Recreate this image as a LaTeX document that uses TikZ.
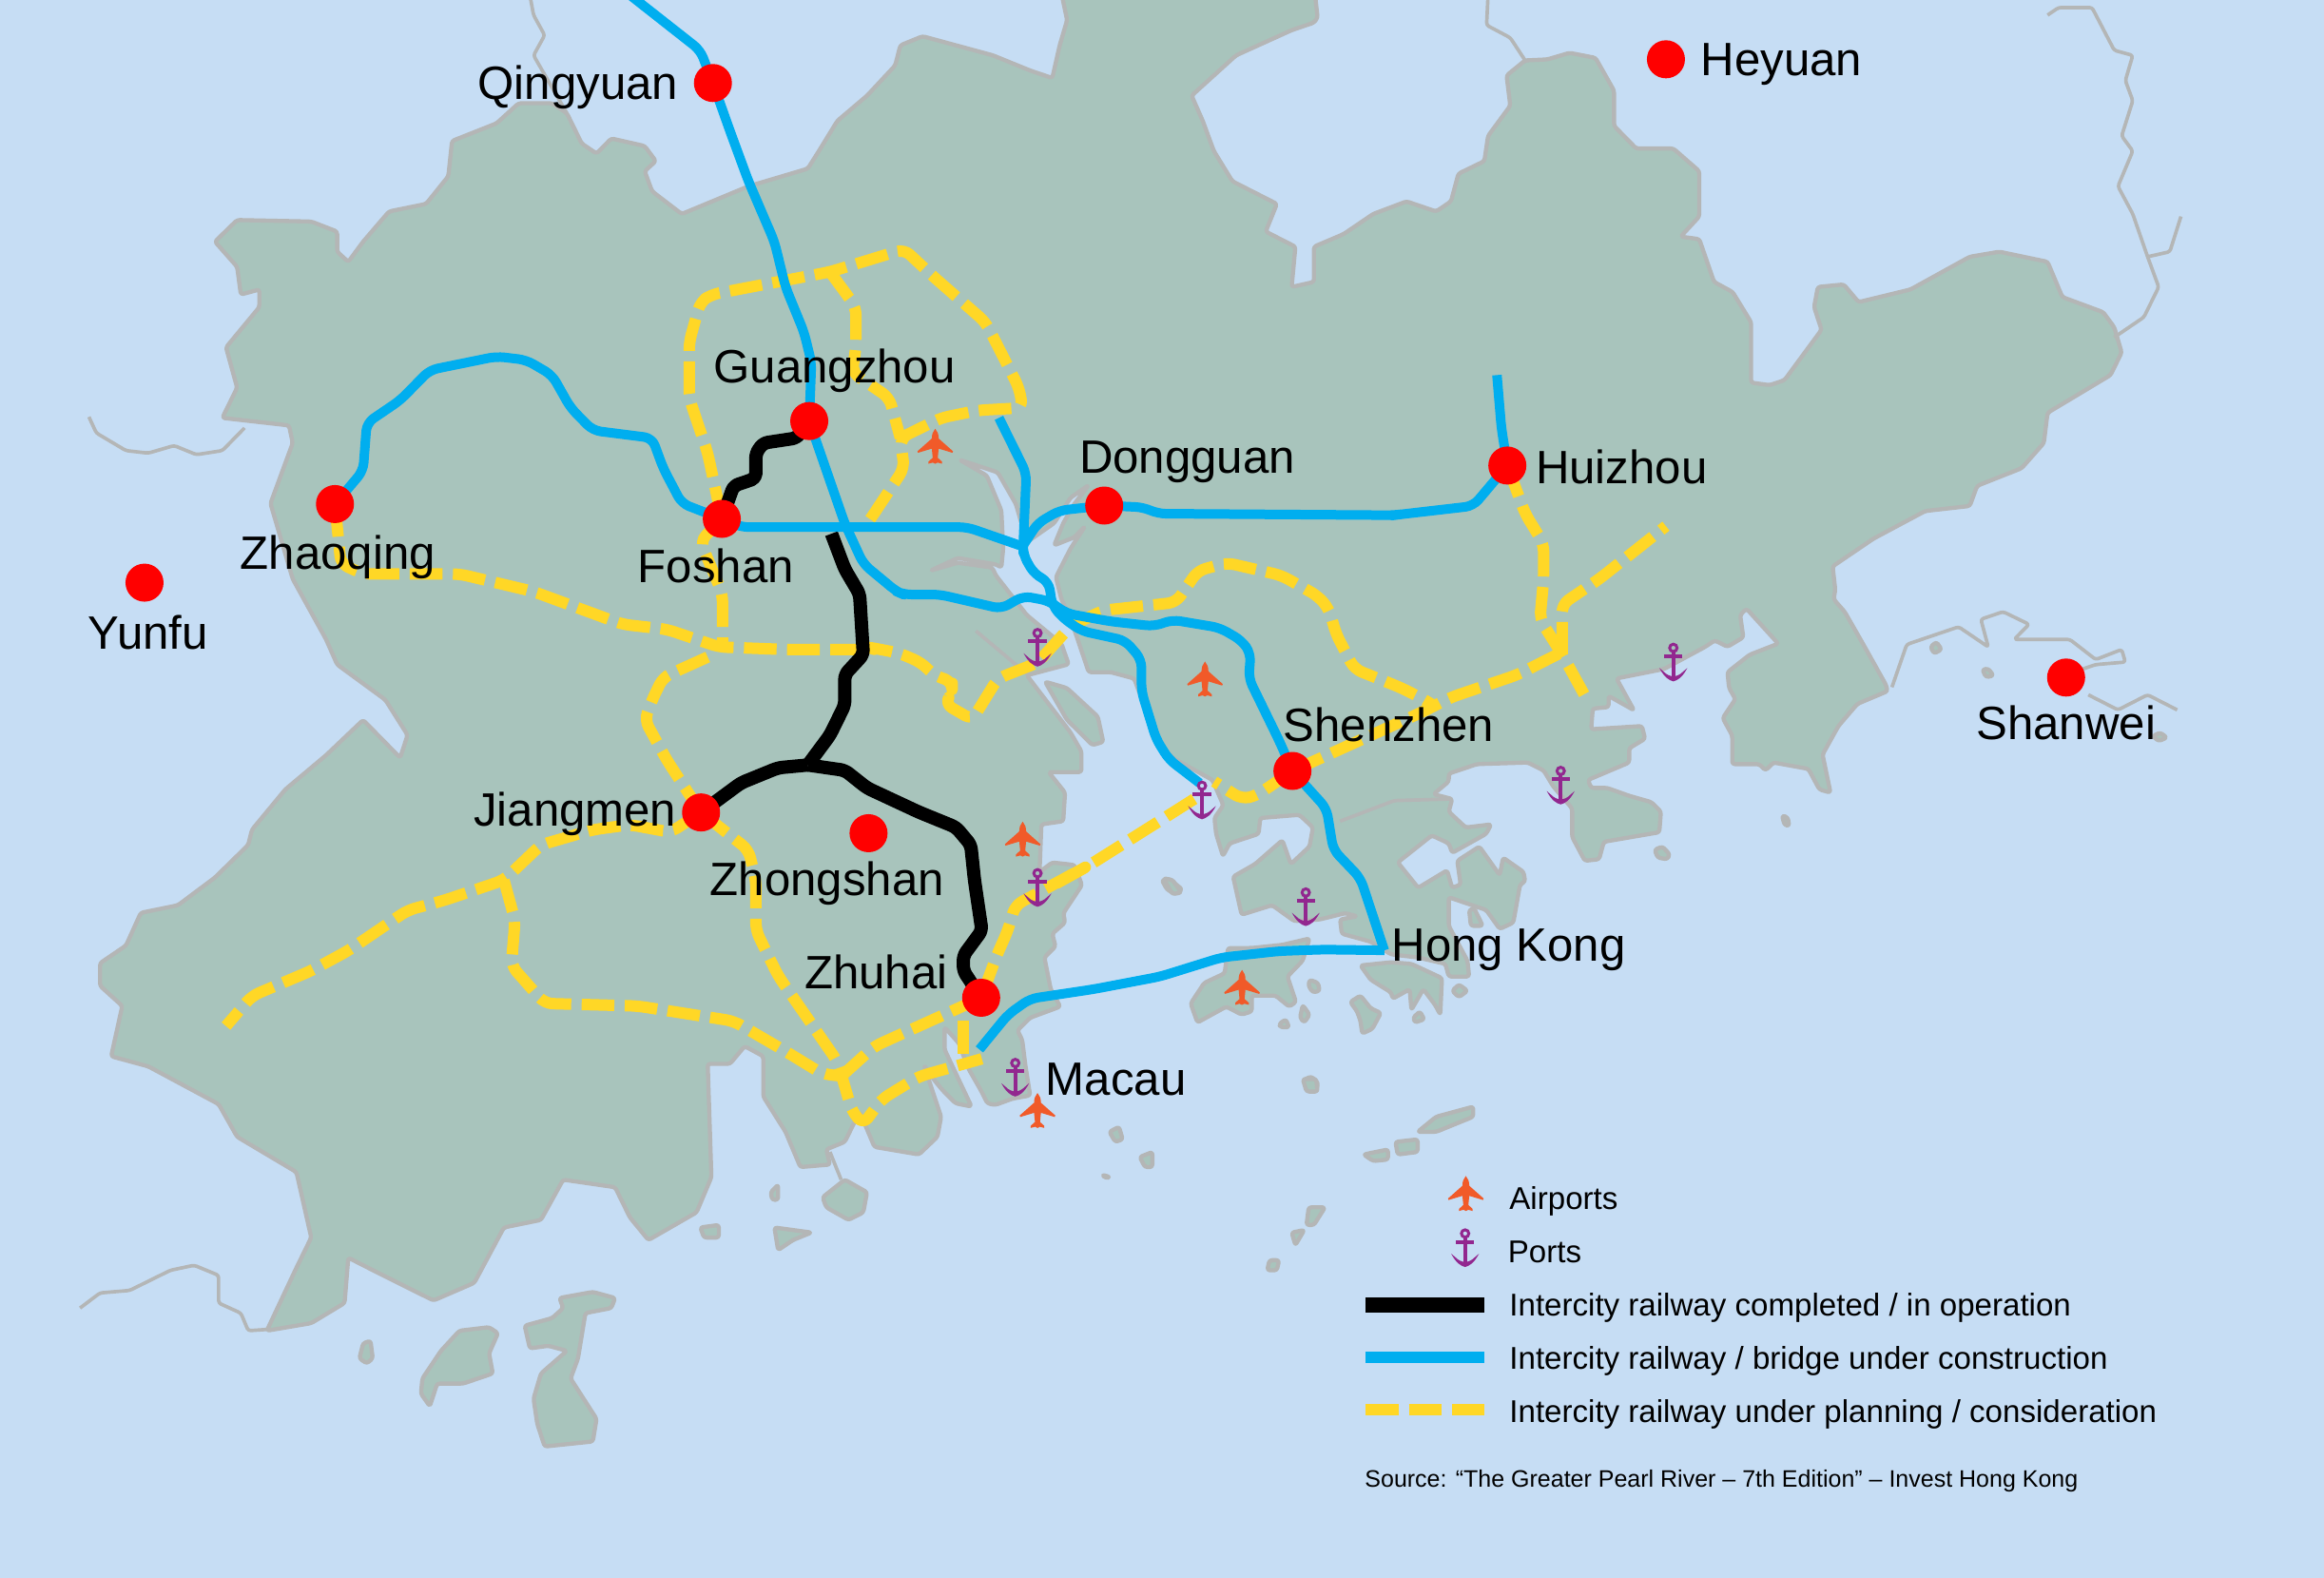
\documentclass[tikz,border=0pt]{standalone}
\usepackage{fontspec}
\setmainfont{Liberation Sans}
\pgfdeclarelayer{back}
\pgfsetlayers{back,main}
\definecolor{seacol}{HTML}{C6DDF4}
\definecolor{landcol}{HTML}{A8C4BC}
\definecolor{edgecol}{HTML}{B4B6B6}
\definecolor{railblue}{HTML}{00AEEF}
\definecolor{railyellow}{HTML}{FFD726}
\definecolor{planecol}{HTML}{F15A29}
\definecolor{anchorcol}{HTML}{92278F}
\tikzset{
  z1/.style={x=0.2338pt,y=-0.1588pt},
  z2/.style={shift={(366.6pt,0pt)},x=0.2338pt,y=-0.1588pt},
  z3/.style={shift={(0pt,-249pt)},x=0.2338pt,y=-0.1588pt},
  z4/.style={shift={(366.6pt,-249pt)},x=0.2338pt,y=-0.1588pt},
  z5/.style={shift={(270pt,-135pt)},x=0.1148pt,y=-0.1pt},
  z6/.style={shift={(366pt,-234pt)},x=0.10714pt,y=-0.1pt},
  z7/.style={shift={(285pt,-285pt)},x=0.1pt,y=-0.1pt},
  z8/.style={shift={(450pt,-186pt)},x=0.1pt,y=-0.1pt},
  land/.style={fill=landcol,draw=edgecol,line width=1.3pt,line join=round,rounded corners=0.8pt},
  border/.style={draw=edgecol,line width=1.1pt,line join=round,rounded corners=0.8pt},
  rail/.style={line join=round,rounded corners=2.5pt},
  blueline/.style={rail,draw=railblue,line width=3pt},
  blackline/.style={line join=round,rounded corners=1.5pt,draw=black,line width=4.2pt},
  yellowline/.style={rail,draw=railyellow,line width=3.6pt,dash pattern=on 10.3pt off 3.3pt},
  dot/.style={circle,fill=red,draw=none,minimum size=12pt,inner sep=0pt},
  city/.style={font=\fontsize{14.75}{17}\selectfont,text=black,inner sep=0pt,text height=12pt,text depth=1.7pt},
  legendtext/.style={font=\fontsize{9.93}{12}\selectfont,text=black,inner sep=0pt,anchor=west,text height=8.2pt,text depth=1.2pt},
  planeic/.pic={\fill[planecol] (0,-11.8) .. controls (1.6,-10) and (2.3,-8) .. (2.3,-5.2) -- (12,3.4) -- (11.6,4.4) -- (2.3,1.6) -- (1.7,7.8) -- (4.6,10.4) -- (4.6,11.8) -- (1.6,11) -- (0,11.8) -- (-1.6,11) -- (-4.6,11.8) -- (-4.6,10.4) -- (-1.7,7.8) -- (-2.3,1.6) -- (-11.6,4.4) -- (-12,3.4) -- (-2.3,-5.2) .. controls (-2.3,-8) and (-1.6,-10) .. (0,-11.8) -- cycle;},
  anchoric/.pic={
    \draw[anchorcol,line width=0.9pt] (0,-11) circle (2.5);
    \draw[anchorcol,line width=1.2pt] (0,-8.5) -- (0,9) (-6.2,-5.4) -- (6.2,-5.4);
    \fill[anchorcol] (-9.4,2.6) .. controls (-6,9) and (-3,10.8) .. (0,11.6) .. controls (3,10.8) and (6,9) .. (9.4,2.6) -- (6.6,5) .. controls (4.5,7.2) and (2,8.2) .. (0,8.2) .. controls (-2,8.2) and (-4.5,7.2) .. (-6.6,5) -- cycle;}
}
\begin{document}
\begin{tikzpicture}[x=0.4676pt,y=-0.4676pt]
\useasboundingbox (0,0) rectangle (1568,1064.3);
% cities
\node[dot] (qing) at (481,56) {};
\node[dot] (heyu) at (1124,40) {};
\node[dot] (guan) at (546,284) {};
\node[dot] (fosh) at (487,350) {};
\node[dot] (zhao) at (226,340) {};
\node[dot] (yunf) at (97.5,393) {};
\node[dot] (dong) at (745,341) {};
\node[dot] (huiz) at (1017,314) {};
\node[dot] (shen) at (872,520) {};
\node[dot] (shan) at (1394,457) {};
\node[dot] (jian) at (473,548) {};
\node[dot] (zhon) at (586,562) {};
\node[dot] (zhuh) at (662,673) {};
\coordinate (hkpt) at (934,641);
\node[city] (lqing) at (390,56) {Qingyuan};
\node[city] (lheyu) at (1202,40) {Heyuan};
\node[city] (lguan) at (563,247) {Guangzhou};
\node[city] (lfosh) at (483,382) {Foshan};
\node[city] (lzhao) at (228,373) {Zhaoqing};
\node[city] (lyunf) at (100,427) {Yunfu};
\node[city] (ldong) at (801,308) {Dongguan};
\node[city] (lhuiz) at (1094,315) {Huizhou};
\node[city] (lshen) at (937,489) {Shenzhen};
\node[city] (lshan) at (1394,488) {Shanwei};
\node[city] (ljian) at (388,546) {Jiangmen};
\node[city] (lzhon) at (558,593) {Zhongshan};
\node[city] (lzhuh) at (591,656) {Zhuhai};
\node[city] (lhk) at (1018,637) {Hong Kong};
\node[city] (lmac) at (753,728) {Macau};
% legend
\pic at (989,805) {planeic};
\pic at (988.5,843) {anchoric};
\node[legendtext] (t1) at (1018,808) {Airports};
\node[legendtext] (t2) at (1017,844) {Ports};
\node[legendtext] (t3) at (1018,880) {Intercity railway completed / in operation};
\node[legendtext] (t4) at (1018,916) {Intercity railway / bridge under construction};
\node[legendtext] (t5) at (1018,952) {Intercity railway under planning / consideration};
\node[font=\fontsize{7.5}{9}\selectfont,inner sep=0pt,anchor=west] (src) at (920.5,999) {Source: “The Greater Pearl River – 7th Edition” – Invest Hong Kong};
\coordinate (a1) at (921.5,880.5); \coordinate (a2) at (1001.5,880.5);
\coordinate (b1) at (921.5,915.6); \coordinate (b2) at (1001.5,915.6);
\coordinate (c1) at (921.5,950.6); \coordinate (c2) at (1001.5,950.6);
\draw[line width=4.8pt,black] (a1) -- (a2);
\draw[line width=3.5pt,railblue] (b1) -- (b2);
\draw[line width=3.6pt,railyellow,dash pattern=on 10.3pt off 3.3pt] (c1) -- (c2);
% icons
\foreach \p in {(631,301),(813,458),(690,566),(838,666),(700,749)} {\pic at \p {planeic};}
\foreach \p in {(700,438),(811,541),(1129,448),(1053,531),(700,600),(881,613),(685,728)} {\pic at \p {anchoric};}

\begin{pgfonlayer}{back}
\fill[seacol] (0,0) rectangle (1568,1064.3);
% mainland
\path[land] {[z1] (1430,-30) -- (1440,40) -- (1430,90) -- (1420,155) -- (1390,140) -- (1340,110) -- (1290,90) -- (1245,72) -- (1215,90) -- (1208,130) -- (1170,190) -- (1130,240) -- (1105,300) -- (1090,335) -- (1010,370) -- (920,425) -- (880,380) -- (870,340) -- (885,320) -- (870,290) -- (825,275) -- (805,305) -- (785,285) -- (765,225) -- (745,205) -- (700,205) -- (670,245) -- (610,280) -- (605,350) -- (575,405) -- (525,420) -- (490,480) -- (470,520) -- (455,500) -- (455,460) -- (420,440) -- (320,437) -- (290,480) -- (320,530) -- (325,585) -- (350,575) -- (350,610) -- (305,690) -- (320,770) -- (300,830) -- (390,845) -- (395,880) -- (365,1000) -- (395,1150) -- (440,1270) -- (455,1320) -- (520,1390) -- (550,1460) -- (540,1505) -- (490,1430) -- (440,1500) -- (385,1568)}
 {[z3] -- (340,80) -- (335,110) -- (290,175) -- (240,230) -- (190,245) -- (170,310) -- (135,345) -- (135,390) -- (165,430) -- (150,530) -- (200,550) -- (295,625) -- (320,690) -- (400,760) -- (420,890) -- (400,950) -- (360,1075) -- (420,1060) -- (465,1020) -- (470,930) -- (510,960) -- (585,1015) -- (640,980) -- (680,870) -- (730,855) -- (760,775) -- (830,790) -- (850,850) -- (875,895) -- (940,840) -- (960,770) -- (955,545) -- (985,545) -- (1005,510) -- (1030,530) -- (1030,610) -- (1060,680) -- (1080,750) -- (1120,745) -- (1115,715) -- (1140,700) -- (1160,640) -- (1180,710) -- (1240,725) -- (1265,690) -- (1270,650)}
 {[z7] -- (65,510) -- (100,560) -- (125,590) -- (165,630) -- (215,640) -- (170,545) -- (130,460) -- (130,390) -- (175,440) -- (205,520) -- (245,590) -- (265,630) -- (290,635) -- (345,615) -- (400,605) -- (385,510) -- (375,430) -- (360,400) -- (400,360) -- (495,325) -- (465,270) -- (445,170) -- (480,135) -- (470,95) -- (510,60) -- (505,30)}
 {[z3] -- (1460,190) -- (1450,150) -- (1420,145)}
 {[z5] -- (505,1400) -- (510,1250) -- (570,1240) -- (575,1150) -- (530,1085) -- (620,1085) -- (620,1020) -- (590,960) -- (470,780) -- (585,745) -- (565,680) -- (470,590) -- (385,465) -- (375,440) -- (280,425) -- (205,450) -- (280,410) -- (385,430) -- (400,440) -- (405,380) -- (400,260) -- (360,150) -- (285,100) -- (390,140) -- (440,240) -- (470,360) -- (545,300) -- (590,220) -- (640,180) -- (600,240) -- (570,300) -- (545,370) -- (600,345) -- (630,310) -- (590,380) -- (550,470) -- (565,540) -- (590,600) -- (640,770) -- (700,770) -- (765,790) -- (800,900) -- (830,990) -- (870,1040) -- (980,1110) -- (1010,1190)}
 {[z6] -- (160,240) -- (165,290) -- (185,360) -- (205,320) -- (290,290) -- (295,240) -- (410,230) -- (450,270) -- (440,330) -- (385,385) -- (360,310) -- (280,385) -- (215,425) -- (240,545) -- (330,515) -- (395,565) -- (470,560) -- (545,540) -- (580,550) -- (530,560) -- (535,605) -- (620,630) -- (680,670) -- (760,680) -- (840,700) -- (850,740) -- (910,740) -- (905,690) -- (850,580) -- (850,490) -- (960,530) -- (1000,590) -- (1040,570) -- (1060,450) -- (1075,440) -- (1070,410) -- (1010,365) -- (1000,420) -- (940,330) -- (875,375) -- (885,450) -- (860,460) -- (845,405) -- (760,460) -- (700,380) -- (800,295) -- (850,320) -- (860,350) -- (960,290) -- (975,260) -- (900,270) -- (850,220) -- (860,180) -- (805,165) -- (850,125) -- (850,100)}
 {[z8] -- (160,550) -- (320,545) -- (370,570) -- (400,620) -- (460,690) -- (460,780) -- (500,855) -- (545,850) -- (560,795) -- (735,765) -- (740,700) -- (710,670) -- (640,650) -- (570,625) -- (520,625) -- (510,600) -- (640,545) -- (640,500) -- (690,470) -- (680,430) -- (600,435) -- (520,440) -- (525,375) -- (575,370) -- (575,335) -- (655,380) -- (600,280) -- (750,250) -- (880,180) -- (910,160) -- (950,180) -- (1000,150) -- (990,80) -- (1010,60) -- (1110,170) -- (1020,205) -- (950,260) -- (955,310) -- (975,345) -- (935,405) -- (965,460) -- (965,550) -- (1050,550) -- (1070,570) -- (1095,545) -- (1205,565) -- (1240,630) -- (1275,640) -- (1250,520) -- (1300,430) -- (1360,360) -- (1455,320) -- (1450,300) -- (1380,175) -- (1320,70) -- (1285,30) -- (1290,0)}
 {[z2] -- (905,1125) -- (960,1070) -- (1030,1015) -- (1090,1005) -- (1100,965) -- (1160,930) -- (1190,880) -- (1195,820) -- (1280,745) -- (1295,700) -- (1285,650) -- (1270,620) -- (1215,590) -- (1195,520) -- (1130,500) -- (1090,510) -- (1010,575) -- (940,600) -- (920,565) -- (885,570) -- (880,610) -- (890,655) -- (840,755) -- (820,765) -- (795,760) -- (795,640) -- (770,580) -- (745,560) -- (725,475) -- (700,470) -- (725,430) -- (725,340) -- (690,295) -- (640,295) -- (610,250) -- (610,180) -- (585,115) -- (550,105) -- (520,118) -- (490,120) -- (465,150) -- (470,210) -- (440,270) -- (435,320) -- (400,345) -- (390,400) -- (370,420) -- (330,400) -- (285,425) -- (245,465) -- (205,490) -- (205,560) -- (175,570) -- (180,490) -- (140,460) -- (155,405) -- (95,360) -- (70,300) -- (55,240) -- (40,190) -- (100,110) -- (175,60) -- (205,45) -- (210,35) -- (205,-30)} -- cycle;
% thin borders
\path[border] {[z1] (715,-10) -- (720,30) -- (735,70) -- (720,110) -- (765,225)};
\path[border] {[z1] (120,828) -- (130,860) -- (170,895) -- (200,900) -- (235,885) -- (265,903) -- (300,895) -- (330,850)};
\path[border] {[z2] (440,-10) -- (438,50) -- (470,75) -- (490,120)};
\path[border] {[z2] (1195,30) -- (1210,15) -- (1255,15) -- (1285,100) -- (1310,110) -- (1300,160) -- (1310,200) -- (1295,270) -- (1310,300) -- (1290,370) -- (1310,425) -- (1330,510) -- (1345,570) -- (1325,630) -- (1285,670)};
\path[border] {[z2] (1330,510) -- (1360,500) -- (1375,430)};
\path[border] {[z2] (985,1365) -- (1005,1280) -- (1075,1245) -- (1115,1285) -- (1105,1230) -- (1135,1215) -- (1170,1240) -- (1150,1270) -- (1225,1270) -- (1260,1310) -- (1295,1290) -- (1300,1315) -- (1260,1320) -- (1240,1330)};
\path[border] {[z2] (1250,1380) -- (1290,1410) -- (1330,1380) -- (1370,1410)};
\path[border] {[z3] (108,1030) -- (135,1000) -- (175,995) -- (230,955) -- (262,945) -- (295,965) -- (295,1020) -- (325,1040) -- (335,1075) -- (365,1072)};
\path[border] {[z6] (530,250) -- (690,185) -- (860,180)};
\path[border] {[z5] (330,640) -- (470,775)};
\path[border] {[z3] (1120,720) -- (1135,775)};
% islands
\path[land] {[z3] (485,1130) -- (490,1100) -- (500,1095) -- (503,1130) -- (495,1140)} -- cycle;
\path[land] {[z3] (570,1170) -- (595,1115) -- (620,1075) -- (660,1068) -- (672,1080) -- (660,1120) -- (665,1160) -- (625,1180) -- (590,1180) -- (580,1225) -- (568,1200)} -- cycle;
\path[land] {[z3] (755,1010) -- (800,998) -- (830,1010) -- (825,1030) -- (790,1040) -- (780,1130) -- (770,1170) -- (805,1250) -- (800,1295) -- (735,1305) -- (725,1260) -- (720,1210) -- (730,1160) -- (765,1115) -- (740,1105) -- (715,1110) -- (708,1065) -- (745,1050) -- (760,1030)} -- cycle;
\path[land] {[z3] (1040,800) -- (1050,785) -- (1050,815) -- (1042,815)} -- cycle;
\path[land] {[z3] (1110,810) -- (1140,775) -- (1170,800) -- (1165,840) -- (1145,855) -- (1115,830)} -- cycle;
\path[land] {[z3] (945,870) -- (970,865) -- (970,890) -- (950,890)} -- cycle;
\path[land] {[z3] (1045,870) -- (1095,880) -- (1070,895) -- (1050,915)} -- cycle;
\path[land] {[z3] (1497,680) -- (1510,670) -- (1515,695) -- (1505,700)} -- cycle;
\path[land] {[z3] (1538,730) -- (1555,720) -- (1555,750) -- (1545,750)} -- cycle;
\path[land] {[z3] (1487,765) -- (1498,770) -- (1492,772)} -- cycle;
\path[land] {[z6] (90,825) -- (130,760) -- (190,730) -- (200,650) -- (270,650) -- (360,640) -- (440,620) -- (420,690) -- (375,740) -- (400,820) -- (380,835) -- (340,800) -- (270,800) -- (270,850) -- (240,860) -- (195,835) -- (110,885)} -- cycle;
\path[land] {[z6] (440,750) -- (465,760) -- (470,785) -- (450,790) -- (437,770)} -- cycle;
\path[land] {[z6] (420,830) -- (440,860) -- (425,885) -- (412,870)} -- cycle;
\path[land] {[z6] (350,890) -- (370,875) -- (380,900) -- (355,900)} -- cycle;
\path[land] {[z6] (590,705) -- (680,695) -- (740,700) -- (830,745) -- (825,860) -- (810,830) -- (775,780) -- (740,845) -- (735,780) -- (685,810) -- (680,790) -- (620,750)} -- cycle;
\path[land] {[z6] (560,820) -- (590,800) -- (620,840) -- (650,855) -- (625,905) -- (595,920) -- (590,880) -- (580,850)} -- cycle;
\path[land] {[z6] (745,870) -- (765,850) -- (778,875) -- (750,885)} -- cycle;
\path[land] {[z6] (860,785) -- (880,765) -- (905,785) -- (880,805)} -- cycle;
\path[land] {[z6] (5,435) -- (30,435) -- (65,465) -- (45,480) -- (20,465)} -- cycle;
\path[land] {[z6] (425,1065) -- (445,1055) -- (465,1075) -- (460,1100) -- (435,1090)} -- cycle;
\path[land] {[z6] (910,530) -- (925,525) -- (950,580) -- (915,580)} -- cycle;
\path[land] {[z8] (720,820) -- (745,810) -- (768,835) -- (760,850) -- (730,845)} -- cycle;
\path[land] {[z8] (1122,712) -- (1140,718) -- (1145,745) -- (1130,742)} -- cycle;
\path[land] {[z4] (345,680) -- (370,650) -- (420,630) -- (420,650) -- (370,680)} -- cycle;
\path[land] {[z4] (315,700) -- (345,695) -- (345,720) -- (318,725)} -- cycle;
\path[land] {[z4] (272,725) -- (305,715) -- (305,735) -- (285,738)} -- cycle;
\path[land] {[z4] (198,830) -- (220,830) -- (205,865) -- (195,865)} -- cycle;
\path[land] {[z4] (175,880) -- (192,875) -- (180,905)} -- cycle;
\path[land] {[z4] (145,935) -- (158,935) -- (155,955) -- (142,955)} -- cycle;
\path[land] {[z4] (190,575) -- (208,575) -- (210,600) -- (195,600)} -- cycle;
\path[land] {[z5] (520,800) -- (580,820) -- (665,910) -- (680,990) -- (650,1000) -- (580,920)} -- cycle;
\path[land] {[z5] (845,1420) -- (870,1425) -- (895,1465) -- (870,1470)} -- cycle;
\path[land] {[z2] (1037,1285) -- (1045,1275) -- (1052,1290) -- (1042,1298)} -- cycle;
\path[land] {[z2] (1107,1330) -- (1115,1328) -- (1122,1342) -- (1112,1345)} -- cycle;
\path[land] {[z2] (1337,1462) -- (1347,1455) -- (1356,1465) -- (1345,1472)} -- cycle;
% yellow
\draw[yellowline] (fosh.center) {[z1] -- (955,900) -- (930,790) -- (930,680) -- (945,600) -- (960,585) -- (1120,540) -- (1220,495) -- (1260,550) -- (1330,640) -- (1375,770) -- (1380,810) -- (1320,815) -- (1270,830) -- (1215,870) -- (1220,930) -- (1175,1030) -- (1165,1050)};
\draw[yellowline] {[z1] (1120,540) -- (1155,610) -- (1155,690) -- (1150,740) -- (1200,790) -- (1215,870)};
\draw[yellowline] (fosh.center) {[z1] -- (945,1075) -- (975,1180) -- (975,1285)};
\draw[yellowline] (zhao.center) {[z1] -- (460,1120) -- (490,1140) -- (620,1140) -- (720,1175) -- (840,1240) -- (900,1250) -- (970,1285) -- (1060,1290) -- (1180,1290)} {[z5] -- (30,690) -- (120,710) -- (180,740) -- (215,780) -- (265,800) -- (265,830) -- (245,870) -- (320,920) -- (390,790) -- (500,740) -- (590,625) -- (680,575) -- (880,550) -- (940,450) -- (1020,425) -- (1170,465) -- (1270,530) -- (1300,570) -- (1320,650) -- (1370,760) -- (1500,820) -- (1568,860)} {[z2] -- (365,1400)};
\draw[yellowline] (shen.center) {[z2] -- (350,1415) -- (390,1385) -- (480,1340) -- (540,1295)};
\draw[yellowline] (huiz.center) {[z2] -- (490,1020) -- (515,1080) -- (515,1150) -- (510,1230) -- (540,1300) -- (570,1380)};
\draw[yellowline] {[z2] (540,1300) -- (540,1200) -- (590,1150) -- (680,1045)};
\draw[yellowline] (shen.center) {[z5] -- (1100,1160) -- (1060,1170) -- (985,1115)};
\draw[yellowline] {[z5] (930,1170) -- (820,1250) -- (640,1380) -- (530,1450)} {[z3] -- (1470,150) -- (1370,230) -- (1360,280) -- (1345,330)} -- (zhuh.center);
\draw[yellowline] {[z1] (955,1305) -- (895,1345) -- (880,1390) -- (870,1430) -- (900,1510)} -- (jian.center);
\draw[yellowline] (jian.center) {[z3] -- (1010,120) -- (1020,180) -- (1020,280) -- (1050,370) -- (1130,540) -- (1150,640) -- (1165,665) -- (1190,615) -- (1240,570) -- (1325,535)};
\draw[yellowline] {[z3] (1135,570) -- (1180,510) -- (1270,450)} -- (zhuh.center);
\draw[yellowline] {[z3] (1300,460) -- (1300,525)};
\draw[yellowline] (jian.center) {[z3] -- (905,85) -- (850,70) -- (800,80) -- (730,110) -- (680,180) -- (600,220) -- (550,240) -- (470,320) -- (420,360) -- (340,410) -- (305,470)};
\draw[yellowline] {[z3] (680,180) -- (695,260) -- (690,350) -- (735,425) -- (860,430) -- (990,460) -- (1060,520) -- (1110,565) -- (1140,570)};
% black
\draw[blackline] (guan.center) {[z1] -- (1075,870) -- (1030,880) -- (1020,900) -- (1020,950) -- (990,965)} -- (fosh.center);
\coordinate (junc) at (545,516);
\draw[blackline] {[z1] (1122,1060) -- (1140,1130) -- (1160,1180) -- (1165,1300) -- (1140,1340) -- (1140,1400) -- (1120,1460)} -- (junc);
\draw[blackline] (junc) {[z1] -- (1050,1525) -- (1000,1555)} -- (jian.center);
\draw[blackline] (junc) {[z1] -- (1140,1530) -- (1170,1565)} {[z3] -- (1240,45) -- (1290,75) -- (1310,110) -- (1315,180) -- (1325,280) -- (1300,330) -- (1300,360)} -- (zhuh.center);
% blue
\draw[blueline] {[z1] (850,-10) -- (945,100)} -- (qing.center);
\draw[blueline] (qing.center) {[z1] -- (985,260) -- (1010,360) -- (1045,480) -- (1060,570) -- (1085,660) -- (1095,720)} -- (guan.center);
\draw[blueline] (guan.center) {[z1] -- (1140,1040) -- (1165,1120) -- (1210,1175)} {[z5] -- (130,525) -- (230,525) -- (400,570) -- (460,530) -- (530,545) -- (580,585) -- (700,610) -- (820,625) -- (870,605) -- (1000,630) -- (1060,670) -- (1085,710) -- (1080,790) -- (1165,990)} -- (shen.center);
\draw[blueline] (zhao.center) {[z1] -- (490,935) -- (495,840) -- (540,795) -- (580,735) -- (670,708) -- (710,715) -- (745,745) -- (770,810) -- (800,855) -- (880,870) -- (895,930) -- (920,1000)} -- (fosh.center);
\draw[blueline] (fosh.center) {[z1] -- (1000,1047) -- (1305,1047)} {[z5] -- (450,370)} ;
\draw[blueline] (dong.center) {[z5] -- (560,260) -- (500,300) -- (460,370)};
\draw[blueline] {[z1] (1348,830) -- (1385,940)} {[z5] -- (460,370) -- (460,400) -- (490,460) -- (530,485) -- (540,560) -- (570,600) -- (620,640) -- (740,670) -- (785,730) -- (785,830) -- (825,980) -- (860,1045) -- (945,1120)};
\draw[blueline] (dong.center) {[z5] -- (790,250) -- (830,270) -- (1480,275)} {[z2] -- (320,1022) -- (420,1005)} -- (huiz.center);
\draw[blueline] {[z2] (452,745) -- (458,850)} -- (huiz.center);
\draw[blueline] (shen.center) {[z6] -- (490,210) -- (510,340) -- (590,430)} -- (hkpt);
\draw[blueline] (hkpt) {[z6] -- (480,655) -- (350,660) -- (180,680) -- (0,740)} {[z7] -- (600,270) -- (400,300) -- (330,350) -- (240,460)};
\end{pgfonlayer}
\end{tikzpicture}
\end{document}
